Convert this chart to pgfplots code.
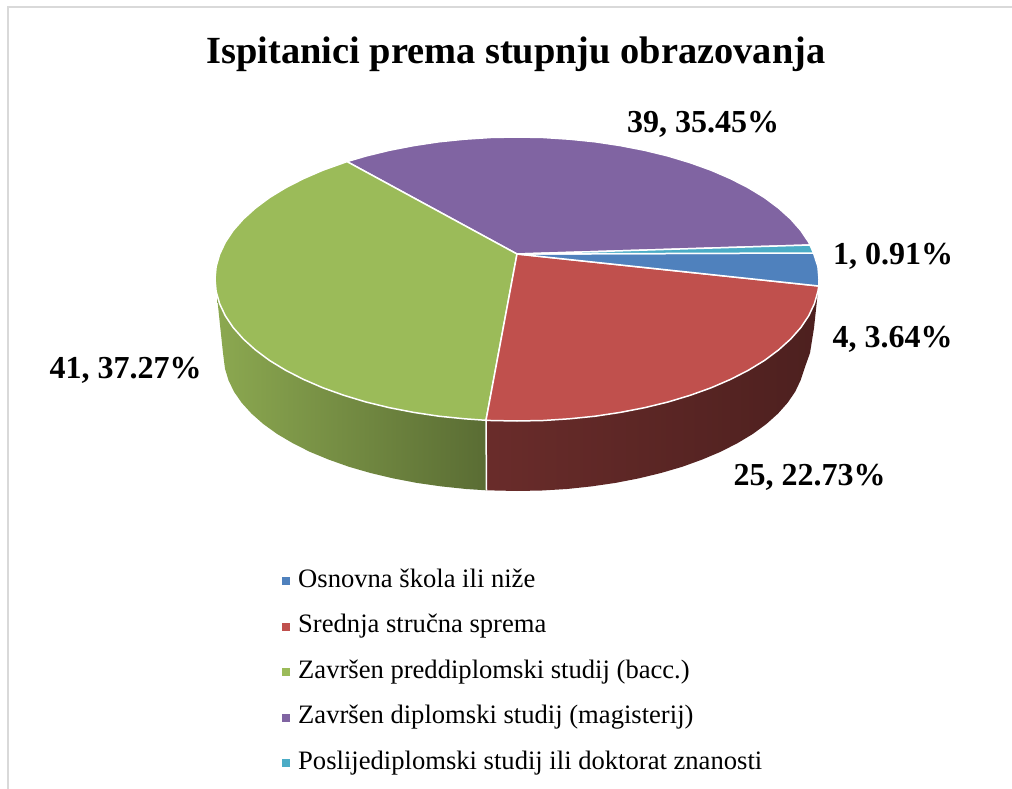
\documentclass[border=0pt]{standalone}
\usepackage{fontspec}
\setmainfont{Liberation Serif}
\usepackage{pgfplots}
\pgfplotsset{compat=1.18}
\definecolor{cblue}{HTML}{4F81BD}
\definecolor{cred}{HTML}{C0504D}
\definecolor{cgreen}{HTML}{9BBB59}
\definecolor{cpurple}{HTML}{8064A2}
\definecolor{cteal}{HTML}{4BACC6}
\begin{document}
\begin{tikzpicture}
\begin{axis}[
  scale only axis, width=1012pt, height=789pt,
  xmin=0, xmax=1012, ymin=0, ymax=789, y dir=reverse,
  hide axis, clip=false,
  legend cell align=left,
  legend image code/.code={\fill[#1,draw=none] (0pt,-4pt) rectangle (8pt,4pt); \path[draw=none,fill=none] (0pt,0pt) -- (16pt,0pt);},
  legend style={at={(axis cs:282,569)}, anchor=north west, draw=none, fill=none,
    font=\fontsize{26.6}{28}\selectfont, row sep=21.5pt, inner sep=0pt,
    nodes={inner sep=0pt, text height=18pt, text depth=6pt}},
]
\path[use as bounding box] (axis cs:0,0) rectangle (axis cs:1012,789);
% frame
\addplot[forget plot, no markers, draw=black!15, line width=1.2pt] coordinates {(8,789)(8,7)(1012,7)};
% green wall
\addplot[forget plot, no markers, draw=none, left color=cgreen!90!black, right color=cgreen!58!black] coordinates {
(486,420.3)(464.6,418.8)(438.8,416.2)(413.7,412.4)(389.4,407.7)(366.0,402.0)(343.8,395.3)(322.9,387.8)(303.5,379.4)(285.7,370.3)(269.6,360.5)(255.5,350.0)(243.3,339.0)(233.2,327.6)(225.3,315.8)(219.6,303.7)(217,296)
(220,325)(223,353)(225,368.7)(228.5,380.3)(234,391.7)(241.7,402.8)(251.5,413.6)(263.3,424)(277,433.9)(292.6,443.1)(309.8,451.8)(328.7,459.6)(349,466.8)(370.5,473)(393.2,478.4)(416.8,482.9)(441.2,486.4)(466.1,489)(486,490.3)} -- cycle;
% red wall
\addplot[forget plot, no markers, draw=none, left color=cred!55!black, middle color=cred!38!black, right color=cred!40!black] coordinates {
(486,420.3)(490.7,420.5)(517,421)(543.3,420.5)(569.4,418.8)(595.2,416.2)(620.3,412.4)(644.6,407.7)(668.0,402.0)(690.2,395.3)(711.1,387.8)(730.5,379.4)(748.3,370.3)(764.4,360.5)(778.5,350.0)(790.7,339.0)(800.8,327.6)(808.7,315.8)(814.4,303.7)(817.9,291.4)
(817,300)(814,328)(810,353)(805,367)(800.6,380.3)(795.2,391.7)(787.6,402.8)(778,413.6)(766.4,424)(752.9,433.9)(737.6,443.1)(720.6,451.8)(702.1,459.6)(682.2,466.8)(661,473)(638.7,478.4)(615.5,482.9)(591.5,486.4)(567,489)(542.1,490.5)(517,491)(486,490.3)} -- cycle;
\addplot[forget plot, no markers, draw=white, line width=1.5pt] coordinates {(486,420.3)(486.5,490.5)};
% top slices
\addplot[forget plot, no markers, fill=cpurple, draw=white, line width=1.5pt] coordinates {
(517,254)(347,161.6)(366.0,156.0)(389.4,150.3)(413.7,145.6)(438.8,141.8)(464.6,139.2)(490.7,137.5)(517,137)(543.3,137.5)(569.4,139.2)(595.2,141.8)(620.3,145.6)(644.6,150.3)(668,156)(690.2,162.7)(711.1,170.2)(730.5,178.6)(748.3,187.7)(764.4,197.5)(778.5,208)(790.7,219)(800.8,230.4)(808.7,242.2)(810,245)} -- cycle;
\addplot[forget plot, no markers, fill=cgreen, draw=white, line width=1.5pt] coordinates {
(517,254)(486,420.3)(464.6,418.8)(438.8,416.2)(413.7,412.4)(389.4,407.7)(366.0,402.0)(343.8,395.3)(322.9,387.8)(303.5,379.4)(285.7,370.3)(269.6,360.5)(255.5,350.0)(243.3,339.0)(233.2,327.6)(225.3,315.8)(219.6,303.7)(216.1,291.4)(215,279)(216.1,266.6)(219.6,254.3)(225.3,242.2)(233.2,230.4)(243.3,219.0)(255.5,208.0)(269.6,197.5)(285.7,187.7)(303.5,178.6)(322.9,170.2)(347,161.6)} -- cycle;
\addplot[forget plot, no markers, fill=cred, draw=white, line width=1.5pt] coordinates {
(517,254)(818.8,286)(817.9,291.4)(814.4,303.7)(808.7,315.8)(800.8,327.6)(790.7,339.0)(778.5,350.0)(764.4,360.5)(748.3,370.3)(730.5,379.4)(711.1,387.8)(690.2,395.3)(668.0,402.0)(644.6,407.7)(620.3,412.4)(595.2,416.2)(569.4,418.8)(543.3,420.5)(517,421)(490.7,420.5)(486,420.3)} -- cycle;
\addplot[forget plot, no markers, fill=cblue, draw=white, line width=1.5pt] coordinates {
(517,254)(813.5,253)(817.9,266.6)(819,279)(818.8,286)} -- cycle;
\addplot[forget plot, no markers, fill=cteal, draw=white, line width=1.5pt] coordinates {
(517,254)(810,245)(813.5,253)} -- cycle;
% legend
\addlegendimage{fill=cblue,draw=none}\addlegendentry{Osnovna škola ili niže}
\addlegendimage{fill=cred,draw=none}\addlegendentry{Srednja stručna sprema}
\addlegendimage{fill=cgreen,draw=none}\addlegendentry{Završen preddiplomski studij (bacc.)}
\addlegendimage{fill=cpurple,draw=none}\addlegendentry{Završen diplomski studij (magisterij)}
\addlegendimage{fill=cteal,draw=none}\addlegendentry{Poslijediplomski studij ili doktorat znanosti}
% texts
\node[font=\fontsize{38.4}{40}\selectfont\bfseries, anchor=base] at (axis cs:516,64) {Ispitanici prema stupnju obrazovanja};
\begin{scope}[every node/.style={font=\fontsize{32}{36}\selectfont\bfseries, anchor=base}]
\node at (axis cs:703,133) {39, 35.45\%};
\node at (axis cs:893,264) {1, 0.91\%};
\node at (axis cs:892.5,347.5) {4, 3.64\%};
\node at (axis cs:809.5,485) {25, 22.73\%};
\node at (axis cs:125.5,378.5) {41, 37.27\%};
\end{scope}
\end{axis}
\end{tikzpicture}
\end{document}
